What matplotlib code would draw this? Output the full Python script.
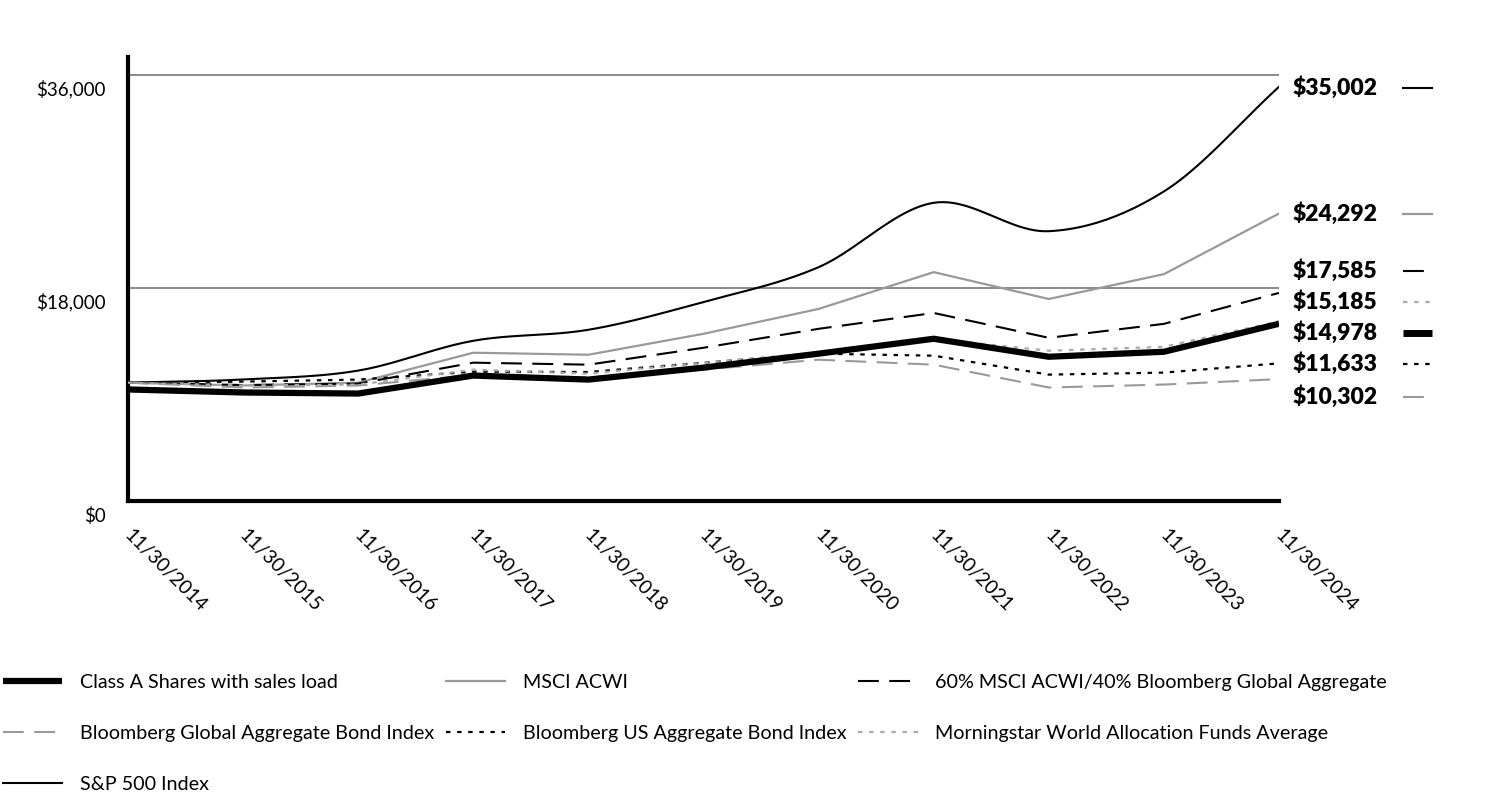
import numpy as np
import matplotlib
matplotlib.use("Agg")
import matplotlib.pyplot as plt
from matplotlib.lines import Line2D
from matplotlib.transforms import ScaledTranslation

# growth of a $10,000 investment
years = ["11/30/2014", "11/30/2015", "11/30/2016", "11/30/2017", "11/30/2018",
         "11/30/2019", "11/30/2020", "11/30/2021", "11/30/2022", "11/30/2023",
         "11/30/2024"]

class_a = [9425, 9170, 9080, 10600, 10260, 11270, 12450, 13710, 12190, 12610, 14978]
msci_acwi = [10000, 9760, 10000, 12530, 12360, 14130, 16230, 19340, 17070, 19170, 24292]
mix_60_40 = [10000, 9800, 9920, 11690, 11520, 12950, 14550, 15890, 13790, 14970, 17585]
global_agg = [10000, 9590, 9760, 10650, 10450, 11100, 11940, 11520, 9590, 9840, 10302]
us_agg = [10000, 10090, 10260, 10930, 10900, 11690, 12450, 12280, 10680, 10850, 11633]
morningstar = [10000, 9760, 9840, 11100, 10760, 11690, 12530, 13700, 12700, 13030, 15185]
sp500 = [10000, 10270, 11020, 13540, 14470, 16820, 19760, 25200, 22800, 26160, 35002]

end_labels = ["$35,002", "$24,292", "$17,585", "$15,185", "$14,978", "$11,633", "$10,302"]

plt.rcParams["font.family"] = ["Lato", "DejaVu Sans"]


def catmull_rom(xs, ys, n=24):
    """smooth curve through the points (only used for drawing)"""
    xs = np.asarray(xs, float)
    ys = np.asarray(ys, float)
    px = np.concatenate([[2 * xs[0] - xs[1]], xs, [2 * xs[-1] - xs[-2]]])
    py = np.concatenate([[2 * ys[0] - ys[1]], ys, [2 * ys[-1] - ys[-2]]])
    out_x, out_y = [], []
    t = np.linspace(0, 1, n, endpoint=False)
    for i in range(1, len(px) - 2):
        for p, out in ((px, out_x), (py, out_y)):
            p0, p1, p2, p3 = p[i - 1], p[i], p[i + 1], p[i + 2]
            out.extend(0.5 * ((2 * p1) + (-p0 + p2) * t
                              + (2 * p0 - 5 * p1 + 4 * p2 - p3) * t ** 2
                              + (-p0 + 3 * p1 - 3 * p2 + p3) * t ** 3))
    out_x.append(xs[-1])
    out_y.append(ys[-1])
    return np.array(out_x), np.array(out_y)


fig = plt.figure(figsize=(15.12, 7.92), dpi=100)
ax = fig.add_axes([128 / 1512, 1 - 501 / 792, (1279 - 128) / 1512, (501 - 57) / 792])

x = np.arange(len(years))
ax.set_xlim(0, len(years) - 1)
ax.set_ylim(0, 37520)

for g in (18000, 36000):
    ax.axhline(g, color="#777777", lw=1.2, zorder=1)

styles = {
    "sp": dict(color="black", lw=1.5, ls="-"),
    "msci": dict(color="#999999", lw=1.6, ls="-"),
    "mix": dict(color="black", lw=1.5, ls=(0, (10, 5))),
    "glob": dict(color="#999999", lw=1.5, ls=(0, (10, 5))),
    "us": dict(color="black", lw=1.6, ls=(0, (2, 3))),
    "morn": dict(color="#aaaaaa", lw=1.6, ls=(0, (2, 3))),
    "cls": dict(color="black", lw=4.5, ls="-", solid_capstyle="butt"),
}

sx, sy = catmull_rom(x, sp500)
ax.plot(sx, sy, **styles["sp"], zorder=3)
ax.plot(x, msci_acwi, **styles["msci"], zorder=3)
ax.plot(x, mix_60_40, **styles["mix"], zorder=3)
ax.plot(x, global_agg, **styles["glob"], zorder=3)
ax.plot(x, us_agg, **styles["us"], zorder=3)
ax.plot(x, morningstar, **styles["morn"], zorder=3)
ax.plot(x, class_a, **styles["cls"], zorder=4)

for s in ("top", "right"):
    ax.spines[s].set_visible(False)
for s in ("left", "bottom"):
    ax.spines[s].set_linewidth(3)
    ax.spines[s].set_color("black")

ax.set_yticks([0, 18000, 36000])
ax.set_yticklabels(["$0", "$18,000", "$36,000"], fontsize=13.5)
ax.tick_params(axis="y", length=0, pad=16)
for lab in ax.get_yticklabels():
    lab.set_transform(lab.get_transform() + ScaledTranslation(0, -0.13, fig.dpi_scale_trans))

ax.set_xticks(x)
ax.set_xticklabels(years, fontsize=14, rotation=-45, ha="left", va="top",
                   rotation_mode="anchor")
ax.tick_params(axis="x", length=0, pad=18)
for lab in ax.get_xticklabels():
    lab.set_transform(lab.get_transform() + ScaledTranslation(0.05, 0, fig.dpi_scale_trans))

# end-of-period labels with small line samples
label_rows = [88, 214, 271, 302, 333, 364, 397]  # pixel rows of the labels
order = ["sp", "msci", "mix", "morn", "cls", "us", "glob"]
for txt, row, key in zip(end_labels, label_rows, order):
    fy = 1 - row / 792
    fig.text(1293 / 1512, fy, txt, fontsize=16.5, fontweight="heavy",
             ha="left", va="center")
    st = dict(styles[key])
    if key == "cls":
        st["lw"] = 5
    if key in ("mix", "glob"):
        st["ls"] = (0, (10, 4, 2, 4))
    fig.add_artist(Line2D([1403 / 1512, 1432 / 1512], [fy, fy], **st))

# legend, row-major order as in the original
h = {k: Line2D([], [], **v) for k, v in styles.items()}
handles = [h["cls"], h["glob"], h["sp"], h["msci"], h["us"], h["mix"], h["morn"]]
labels = ["Class A Shares with sales load", "Bloomberg Global Aggregate Bond Index",
          "S&P 500 Index", "MSCI ACWI", "Bloomberg US Aggregate Bond Index",
          "60% MSCI ACWI/40% Bloomberg Global Aggregate",
          "Morningstar World Allocation Funds Average"]
fig.legend(handles, labels, loc="upper left", bbox_to_anchor=(3 / 1512, 1 - 674 / 792),
           ncol=3, frameon=False, fontsize=14.2, handlelength=3.0, handletextpad=0.9,
           labelspacing=1.72, columnspacing=0.6, borderpad=0, borderaxespad=0)

fig.savefig("out.png", dpi=100)
